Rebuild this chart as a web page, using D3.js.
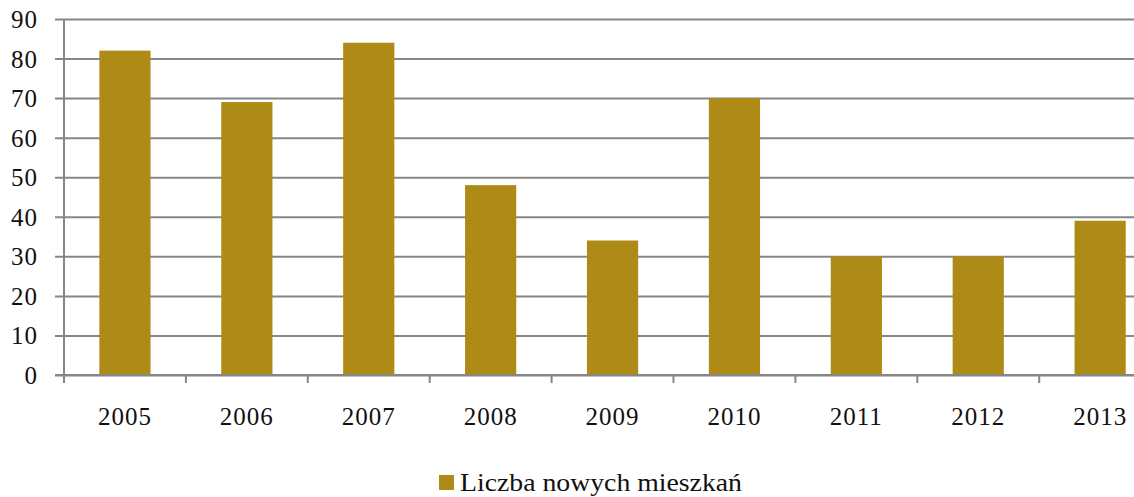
<!DOCTYPE html>
<html>
<head>
<meta charset="utf-8">
<script src="https://cdn.jsdelivr.net/npm/d3@7"></script>
<style>
  body { margin: 0; background: #fff; }
  svg { display: block; }
</style>
</head>
<body>
<div class="plot"></div>
<script>
// chart data
var years = ["2005", "2006", "2007", "2008", "2009", "2010", "2011", "2012", "2013"];
var values = [82, 69, 84, 48, 34, 70, 30, 30, 39];
var y_ticks = [0, 10, 20, 30, 40, 50, 60, 70, 80, 90];
var series_name = "Liczba nowych mieszkań";

var width = 1134, height = 497;
var margin = {top: 19, left: 64, bottom: 375};
var bar_color = "#ae8a17";
var grid_color = "#868686";
var font = "'Liberation Serif', 'Times New Roman', serif";

var svg = d3.select(".plot")
    .append("svg")
    .attr("width", width)
    .attr("height", height)
    .style("font-family", font);

// band scale runs past the right edge, like the cropped original
var x = d3.scaleBand()
  .domain(years)
  .range([margin.left, margin.left + 9 * 121.9])
  .paddingInner(0.58)
  .paddingOuter(0.29);

var y = d3.scaleLinear()
  .domain([0, 90])
  .range([margin.bottom, margin.top]);

// gridlines + y axis
var yAxis = svg.append("g")
  .attr("transform", "translate(" + margin.left + ",0)")
  .call(d3.axisLeft(y).tickValues(y_ticks).tickSize(-(width - margin.left)).tickPadding(26));
yAxis.attr("font-family", null).attr("font-size", null);
yAxis.select(".domain").remove();
yAxis.selectAll(".tick line")
  .attr("x1", -9)
  .attr("stroke", grid_color)
  .attr("stroke-width", 2);
yAxis.selectAll(".tick text")
  .attr("fill", "#111")
  .attr("dy", "0.34em")
  .style("font-family", font)
  .style("font-size", "25px")
  .style("letter-spacing", "1px");

// vertical axis line
svg.append("line")
  .attr("x1", margin.left).attr("x2", margin.left)
  .attr("y1", y(90)).attr("y2", y(0) + 8)
  .attr("stroke", grid_color)
  .attr("stroke-width", 2);

// bars
svg.append("g")
  .selectAll("rect")
  .data(values)
  .enter()
  .append("rect")
    .attr("x", function(d, i) { return x(years[i]); })
    .attr("y", function(d) { return y(d); })
    .attr("width", x.bandwidth())
    .attr("height", function(d) { return y(0) - y(d); })
    .attr("fill", bar_color);

// x axis with category separators
var step = x.step();
var xAxis = svg.append("g")
  .attr("transform", "translate(0," + y(0) + ")");
xAxis.append("line")
  .attr("x1", margin.left - 9).attr("x2", width)
  .attr("stroke", grid_color)
  .attr("stroke-width", 2);
xAxis.selectAll(".sep")
  .data(d3.range(years.length + 1))
  .enter()
  .append("line")
    .attr("class", "sep")
    .attr("x1", function(d) { return margin.left + d * step; })
    .attr("x2", function(d) { return margin.left + d * step; })
    .attr("y1", 0).attr("y2", 8)
    .attr("stroke", grid_color)
    .attr("stroke-width", 2);
xAxis.selectAll(".lab")
  .data(years)
  .enter()
  .append("text")
    .attr("class", "lab")
    .attr("x", function(d) { return x(d) + x.bandwidth() / 2; })
    .attr("y", 50)
    .attr("text-anchor", "middle")
    .style("font-size", "25px")
    .style("letter-spacing", "1px")
    .attr("fill", "#111")
    .text(function(d) { return d; });

// legend
var legend = svg.append("g")
  .attr("transform", "translate(439,475)");
legend.append("rect")
  .attr("width", 15).attr("height", 15)
  .attr("fill", bar_color);
legend.append("text")
  .attr("x", 21)
  .attr("y", 16)
  .style("font-size", "25px")
  .attr("fill", "#111")
  .attr("textLength", 282)
  .attr("lengthAdjust", "spacingAndGlyphs")
  .text(series_name);
</script>
</body>
</html>
